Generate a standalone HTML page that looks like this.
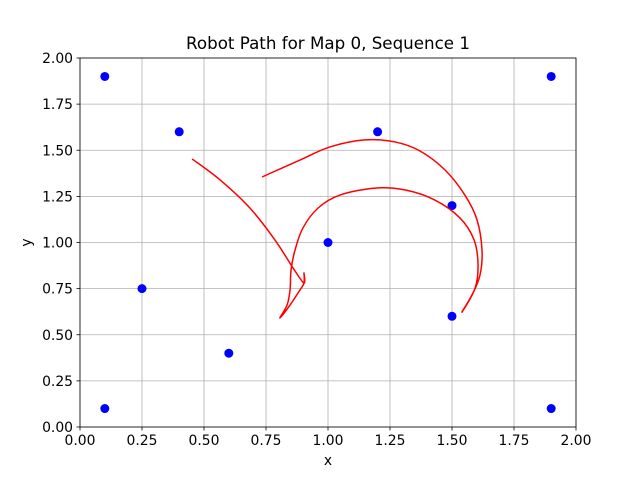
<!DOCTYPE html>
<html><head><meta charset="utf-8"><style>body{margin:0;background:#fff}svg{display:block;font-family:"DejaVu Sans","Liberation Sans",sans-serif}</style></head>
<body>
<svg id="chart" width="640" height="480"></svg>
<script>
const xTicks=[0,0.25,0.5,0.75,1,1.25,1.5,1.75,2];
const yTicks=[0,0.25,0.5,0.75,1,1.25,1.5,1.75,2];
const xTickLabels=["0.00","0.25","0.50","0.75","1.00","1.25","1.50","1.75","2.00"];
const yTickLabels=["0.00","0.25","0.50","0.75","1.00","1.25","1.50","1.75","2.00"];
const landmarkX=[0.1,1.9,0.4,1.2,1.5,1.0,0.25,1.5,0.6,0.1,1.9];
const landmarkY=[1.9,1.9,1.6,1.6,1.2,1.0,0.75,0.6,0.4,0.1,0.1];
const pathX=[0.452,0.565,0.685,0.786,0.859,0.903,0.903,0.903,0.887,0.847,0.806,0.835,0.847,0.851,0.867,0.899,0.960,1.048,1.190,1.310,1.431,1.532,1.589,1.605,1.593,1.540,1.581,1.613,1.621,1.601,1.552,1.472,1.371,1.270,1.149,1.008,0.887,0.734];
const pathY=[1.453,1.339,1.187,1.014,0.862,0.780,0.835,0.780,0.743,0.661,0.591,0.661,0.743,0.851,0.959,1.079,1.187,1.257,1.295,1.285,1.230,1.133,1.014,0.878,0.753,0.623,0.715,0.824,0.959,1.122,1.257,1.393,1.496,1.545,1.556,1.518,1.447,1.355];
const L=80,R=576,T=58,B=427;
const sx=v=>L+(v-0)/2*(R-L), sy=v=>B-(v-0)/2*(B-T);
const svg=document.getElementById('chart');const NS='http://www.w3.org/2000/svg';
function mk(t,a,p){const e=document.createElementNS(NS,t);for(const k in a)e.setAttribute(k,a[k]);(p||svg).appendChild(e);return e;}
xTicks.forEach((v,i)=>{
 const g=mk('line',{x1:sx(v),x2:sx(v),y1:T,y2:B,stroke:'#b0b0b0','stroke-width':0.8});
 
 
 const tk=mk('line',{x1:sx(v),x2:sx(v),y1:B,y2:B+3.5,stroke:'#000','stroke-width':0.8});
 
 
 const t=mk('text',{x:sx(v),y:B+18,'font-size':13.9,'text-anchor':'middle'});t.textContent=xTickLabels[i];
 
 
});
yTicks.forEach((v,i)=>{
 const g=mk('line',{x1:L,x2:R,y1:sy(v),y2:sy(v),stroke:'#b0b0b0','stroke-width':0.8});
 
 
 const tk=mk('line',{x1:L-3.5,x2:L,y1:sy(v),y2:sy(v),stroke:'#000','stroke-width':0.8});
 
 
 const t=mk('text',{x:L-7,y:sy(v)+5,'font-size':13.9,'text-anchor':'end'});t.textContent=yTickLabels[i];
 
 
});
landmarkX.forEach((v,i)=>{
 const c=mk('circle',{cx:sx(v),cy:sy(landmarkY[i]),r:4.5,fill:'#0000ff'});
 
 
});
const P=pathX.map((v,i)=>[sx(v),sy(pathY[i])]);
let d='M'+P[0][0]+','+P[0][1];
for(let i=0;i<P.length-1;i++){
 const p0=P[Math.max(0,i-1)],p1=P[i],p2=P[i+1],p3=P[Math.min(P.length-1,i+2)];
 const c1=[p1[0]+(p2[0]-p0[0])/6,p1[1]+(p2[1]-p0[1])/6],c2=[p2[0]-(p3[0]-p1[0])/6,p2[1]-(p3[1]-p1[1])/6];
 d+=' C'+c1+' '+c2+' '+p2;
}
const p=mk('path',{d:d,fill:'none',stroke:'#ff0000','stroke-width':1.5,'stroke-linejoin':'round'});


const fr=mk('rect',{x:L,y:T,width:R-L,height:B-T,fill:'none',stroke:'#000','stroke-width':0.8});


const ti=mk('text',{x:(L+R)/2,y:T-9,'font-size':16.7,'text-anchor':'middle'});ti.textContent='Robot Path for Map 0, Sequence 1';


const xl=mk('text',{x:(L+R)/2,y:B+38,'font-size':13.9,'text-anchor':'middle'});xl.textContent='x';


const yl=mk('text',{x:31,y:(T+B)/2,'font-size':13.9,'text-anchor':'middle',transform:'rotate(-90 31 '+((T+B)/2)+')'});yl.textContent='y';


</script>
</body></html>
